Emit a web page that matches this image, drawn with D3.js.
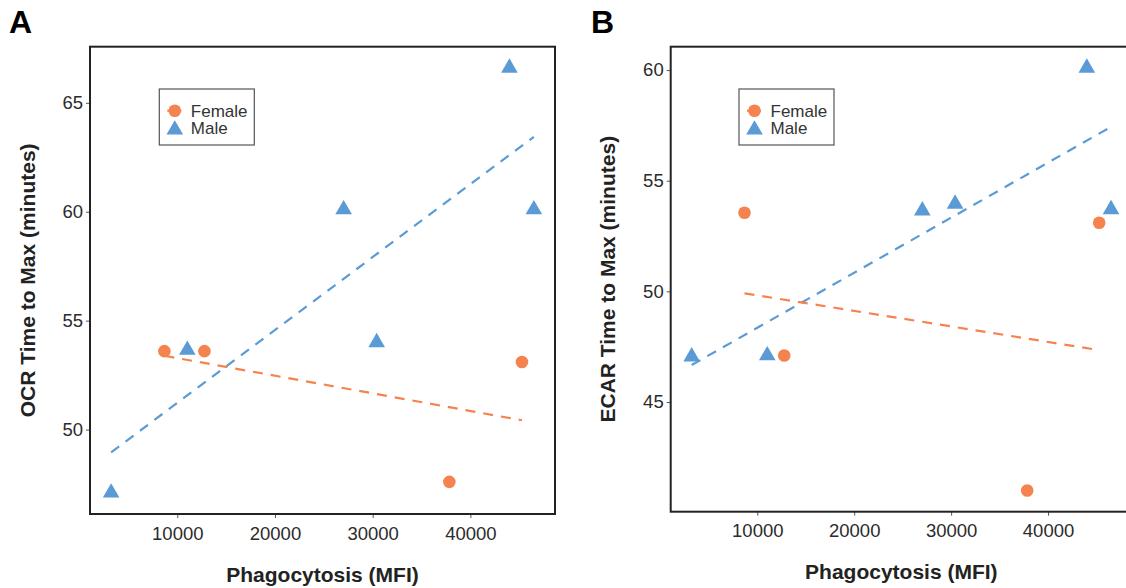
<!DOCTYPE html>
<html>
<head>
<meta charset="utf-8">
<script src="https://d3js.org/d3.v7.min.js"></script>
<style>
  body { margin: 0; background: #ffffff; }
  svg { display: block; font-family: "Liberation Sans", Arial, sans-serif; }
</style>
</head>
<body>
<div id="chart"></div>
<script>
// phagocytosis (MFI), one value per donor
var femaleX = [8680, 12780, 37850, 45280];
var maleX = [3230, 11030, 27030, 30410, 44000, 46500];

// time to max (minutes)
var femaleOCR = [53.6, 53.6, 47.6, 53.1];
var maleOCR = [47.1, 53.65, 60.1, 54.0, 66.6, 60.1];
var femaleECAR = [53.55, 47.1, 41.0, 53.1];
var maleECAR = [47.05, 47.1, 53.65, 53.95, 60.1, 53.7];

var xTicks = [10000, 20000, 30000, 40000];
var ocrTicks = [50, 55, 60, 65];
var ecarTicks = [45, 50, 55, 60];

var groups = ["Female", "Male"];
var colors = { Female: "#F4834F", Male: "#5B9BD5" };

var svg = d3.select("#chart").append("svg")
    .attr("width", 1126)
    .attr("height", 588);

// ggplot style 5% padding around the data
function padded(vals) {
  var ext = d3.extent(vals), d = (ext[1] - ext[0]) * 0.05;
  return [ext[0] - d, ext[1] + d];
}

// least squares line over the group's x range
function fit(xs, ys) {
  var mx = d3.mean(xs), my = d3.mean(ys);
  var sxy = d3.sum(xs, function(x, i) { return (x - mx) * (ys[i] - my); });
  var sxx = d3.sum(xs, function(x) { return (x - mx) * (x - mx); });
  var b = sxy / sxx, a = my - b * mx;
  var ext = d3.extent(xs);
  return [[ext[0], a + b * ext[0]], [ext[1], a + b * ext[1]]];
}

var tri = d3.symbol().type(d3.symbolTriangle).size(120);

function drawTriangle(g, px, py) {
  // centroid sits on the data point
  g.append("path")
    .attr("d", tri())
    .attr("transform", "translate(" + px + "," + py + ")")
    .attr("fill", colors.Male);
}

function panel(opt) {
  var x = d3.scaleLinear()
      .domain(padded(femaleX.concat(maleX)))
      .range([opt.left, opt.right]);
  var y = d3.scaleLinear()
      .domain(padded(opt.female.concat(opt.male)))
      .range([opt.bottom, opt.top]);

  var g = svg.append("g");

  // axes
  var xa = g.append("g")
      .attr("transform", "translate(0," + opt.bottom + ")")
      .call(d3.axisBottom(x).tickValues(xTicks).tickSize(4).tickPadding(4).tickFormat(d3.format("d")));
  var ya = g.append("g")
      .attr("transform", "translate(" + opt.left + ",0)")
      .call(d3.axisLeft(y).tickValues(opt.ticks).tickSize(4).tickPadding(3));
  [xa, ya].forEach(function(a) {
    a.select(".domain").remove();
    a.selectAll(".tick line").attr("stroke", "#555").attr("stroke-width", 1);
    a.selectAll(".tick text")
      .attr("fill", "#2b2b2b")
      .style("font-size", "18.5px")
      .style("font-family", "'Liberation Sans', Arial, sans-serif");
  });
  xa.selectAll(".tick text").attr("dy", "0.95em");

  // regression lines
  var line = d3.line().x(function(d) { return x(d[0]); }).y(function(d) { return y(d[1]); });
  g.append("path")
    .attr("d", line(fit(maleX, opt.male)))
    .attr("stroke", colors.Male).attr("stroke-width", 2.2)
    .attr("stroke-dasharray", "10,8").attr("fill", "none");
  g.append("path")
    .attr("d", line(fit(femaleX, opt.female)))
    .attr("stroke", colors.Female).attr("stroke-width", 2.2)
    .attr("stroke-dasharray", "10,8").attr("fill", "none");

  // points
  femaleX.forEach(function(v, i) {
    g.append("circle")
      .attr("cx", x(v)).attr("cy", y(opt.female[i]))
      .attr("r", 6.3).attr("fill", colors.Female);
  });
  maleX.forEach(function(v, i) {
    drawTriangle(g, x(v), y(opt.male[i]));
  });

  // panel border
  g.append("rect")
    .attr("x", opt.left).attr("y", opt.top)
    .attr("width", opt.right - opt.left).attr("height", opt.bottom - opt.top)
    .attr("fill", "none").attr("stroke", "#222").attr("stroke-width", 2);

  // legend
  var lg = g.append("g").attr("transform", "translate(" + opt.legX + "," + opt.legY + ")");
  lg.append("rect")
    .attr("width", 95).attr("height", 56)
    .attr("fill", "#fff").attr("stroke", "#555").attr("stroke-width", 1.2);
  groups.forEach(function(name, i) {
    var ky = 21.7 + i * 17.6;
    if (name === "Female") {
      lg.append("line")
        .attr("x1", 8).attr("x2", 22).attr("y1", ky).attr("y2", ky)
        .attr("stroke", colors.Female).attr("stroke-width", 2.2);
      lg.append("circle").attr("cx", 15.5).attr("cy", ky).attr("r", 6.3).attr("fill", colors.Female);
    } else {
      drawTriangle(lg, 15.5, ky + 1.5);
    }
    lg.append("text")
      .attr("x", 31.5).attr("y", ky)
      .attr("dy", "0.36em")
      .attr("fill", "#333")
      .style("font-size", "17px")
      .text(name);
  });

  // titles
  g.append("text")
    .attr("x", (opt.left + opt.right) / 2).attr("y", opt.xTitleY)
    .attr("text-anchor", "middle")
    .attr("fill", "#222")
    .style("font-size", "21px").style("font-weight", "bold")
    .text("Phagocytosis (MFI)");
  g.append("text")
    .attr("transform", "translate(" + opt.yTitleX + "," + (opt.top + opt.bottom) / 2 + ") rotate(-90)")
    .attr("text-anchor", "middle")
    .attr("fill", "#222")
    .style("font-size", "21px").style("font-weight", "bold")
    .text(opt.yTitle);
  g.append("text")
    .attr("x", opt.tagX).attr("y", 33)
    .attr("fill", "#000")
    .style("font-size", "32px").style("font-weight", "bold")
    .text(opt.tag);
}

panel({
  tag: "A", tagX: 9,
  female: femaleOCR, male: maleOCR, ticks: ocrTicks,
  left: 90, right: 555, top: 46.7, bottom: 514,
  legX: 159.3, legY: 89,
  xTitleY: 582, yTitleX: 35,
  yTitle: "OCR Time to Max (minutes)"
});

panel({
  tag: "B", tagX: 591,
  female: femaleECAR, male: maleECAR, ticks: ecarTicks,
  left: 670.7, right: 1132, top: 46.7, bottom: 511.7,
  legX: 739, legY: 89,
  xTitleY: 579, yTitleX: 615,
  yTitle: "ECAR Time to Max (minutes)"
});
</script>
</body>
</html>
